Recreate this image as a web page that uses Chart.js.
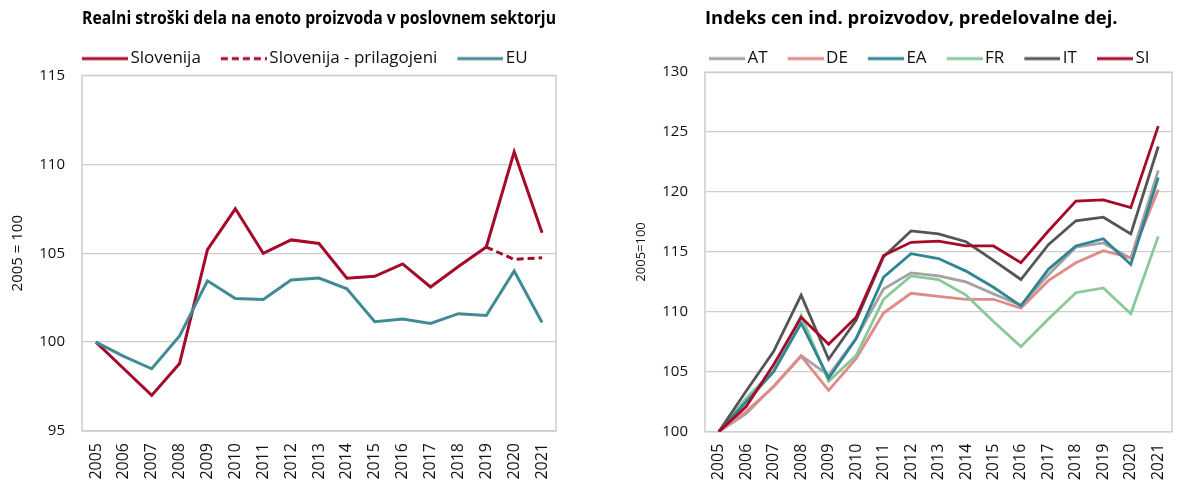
<!DOCTYPE html>
<html>
<head>
<meta charset="utf-8">
<script src="https://cdn.jsdelivr.net/npm/chart.js@4.4.1/dist/chart.umd.min.js"></script>
<style>
  html, body { margin: 0; padding: 0; background: #fff; overflow: hidden; width: 1182px; height: 481px; }
  #c1 { position: absolute; left: 0; top: 0; }
  #c2 { position: absolute; left: 590px; top: 0; }
</style>
</head>
<body>
<canvas id="c1" width="590" height="481"></canvas>
<canvas id="c2" width="600" height="481"></canvas>
<script>
// ---------- data ----------
const years = ['2005','2006','2007','2008','2009','2010','2011','2012','2013','2014','2015','2016','2017','2018','2019','2020','2021'];

const leftTitle = 'Realni stroški dela na enoto proizvoda v poslovnem sektorju';
const leftAxisTitle = '2005 = 100';
const leftTicks = [95, 100, 105, 110, 115];
const sloLabel = 'Slovenija';
const sloAdjLabel = 'Slovenija - prilagojeni';
const euLabel = 'EU';
const slo    = [100, 98.5, 97.0, 98.8, 105.2, 107.5, 105.0, 105.75, 105.55, 103.6, 103.7, 104.4, 103.1, 104.25, 105.35, 110.7, 106.15];
const sloAdj = [null, null, null, null, null, null, null, null, null, null, null, null, null, null, 105.35, 104.65, 104.75];
const eu     = [100, 99.2, 98.5, 100.35, 103.45, 102.45, 102.4, 103.5, 103.6, 103.0, 101.15, 101.3, 101.05, 101.6, 101.5, 104.0, 101.1];

const rightTitle = 'Indeks cen ind. proizvodov, predelovalne dej.';
const rightAxisTitle = '2005=100';
const rightTicks = [100, 105, 110, 115, 120, 125, 130];
const countries = ['AT', 'DE', 'EA', 'FR', 'IT', 'SI'];
const at = [100, 101.5, 103.8, 106.35, 104.7, 107.8, 111.9, 113.25, 113.0, 112.5, 111.5, 110.55, 113.1, 115.4, 115.75, 114.45, 121.8];
const de = [100, 101.7, 103.75, 106.3, 103.45, 106.1, 109.9, 111.55, 111.3, 111.05, 111.05, 110.3, 112.6, 114.1, 115.1, 114.5, 120.2];
const ea = [100, 102.5, 105.0, 109.05, 104.45, 107.75, 112.9, 114.85, 114.45, 113.4, 112.05, 110.5, 113.55, 115.5, 116.1, 113.95, 121.2];
const fr = [100, 102.8, 105.1, 109.7, 104.2, 106.35, 111.05, 113.0, 112.7, 111.4, 109.2, 107.1, 109.4, 111.6, 112.0, 109.85, 116.3];
const it = [100, 103.4, 106.7, 111.4, 106.05, 109.3, 114.6, 116.75, 116.5, 115.85, 114.3, 112.7, 115.6, 117.6, 117.9, 116.5, 123.8];
const si = [100, 102.1, 105.6, 109.55, 107.3, 109.55, 114.7, 115.8, 115.9, 115.5, 115.5, 114.1, 116.75, 119.25, 119.35, 118.7, 125.5];

// ---------- styles ----------
const RED = '#a50a2a';
const TEAL_EU = '#418b92';
const COLORS = { AT: '#a3a3a3', DE: '#e08a8a', EA: '#2f8692', FR: '#89c898', IT: '#555555', SI: '#a50a2a' };
const GRID = '#cdcdcd';
const TEXT = '#111';
const FONT = "'Open Sans', 'DejaVu Sans', sans-serif";
const TITLE_FONT = "'Liberation Sans Narrow', 'Open Sans', sans-serif";

Chart.defaults.font.family = FONT;
Chart.defaults.color = TEXT;
Chart.defaults.animation = false;

// legend sample: a line image (solid or dashed) of length L, 6px left margin
function lineSample(color, dash, width, L) {
  const c = document.createElement('canvas');
  c.width = L + 6; c.height = 6;
  const g = c.getContext('2d');
  g.strokeStyle = color; g.lineWidth = width;
  g.setLineDash(dash || []);
  g.beginPath(); g.moveTo(6, 3); g.lineTo(L + 6, 3); g.stroke();
  return c;
}

const areaBorder = {
  id: 'areaBorder',
  beforeDatasetsDraw(chart) {
    const {ctx, chartArea: a} = chart;
    ctx.save();
    ctx.strokeStyle = GRID; ctx.lineWidth = 1.5;
    ctx.strokeRect(a.left, a.top, a.right - a.left, a.bottom - a.top);
    ctx.restore();
  }
};

const legendShift = {
  id: 'legendShift',
  afterLayout(chart, args, opts) {
    const l = chart.legend;
    if (!l || opts.x === undefined) return;
    const dx = opts.x - (l.left + l.options.labels.padding);
    l.left += dx; l.right += dx;
  }
};

function legendOpts(maxHeight, L) {
  return {
    position: 'top',
    align: 'start',
    maxHeight: maxHeight,
    labels: {
      usePointStyle: true,
      pointStyleWidth: L - 6,
      boxHeight: 17,
      padding: 20,
      color: TEXT,
      font: { size: 17, family: FONT },
      sort: (a, b) => a.datasetIndex - b.datasetIndex,
      generateLabels(chart) {
        const items = Chart.defaults.plugins.legend.labels.generateLabels(chart);
        items.forEach(item => {
          const ds = chart.data.datasets[item.datasetIndex];
          item.pointStyle = lineSample(ds.borderColor, ds.borderDash, ds.borderWidth, L);
        });
        return items;
      }
    }
  };
}

function titleOpts(text, align) {
  return {
    display: true,
    text: text,
    align: align,
    fullSize: false,
    color: '#000',
    font: { family: TITLE_FONT, size: 18.4, weight: 'bold', lineHeight: 1.2 },
    padding: { top: 8, bottom: 0 }
  };
}

function line(label, data, color, extra) {
  return Object.assign({
    label: label, data: data, borderColor: color, backgroundColor: color,
    borderWidth: 3, pointRadius: 0, pointHoverRadius: 0, tension: 0, fill: false, spanGaps: false
  }, extra || {});
}

// ---------- left chart ----------
new Chart(document.getElementById('c1'), {
  type: 'line',
  data: {
    labels: years,
    datasets: [
      line(sloLabel, slo, RED, { order: 1 }),
      line(sloAdjLabel, sloAdj, RED, { borderDash: [7, 4], order: 2 }),
      line(euLabel, eu, TEAL_EU, { order: 0 })
    ]
  },
  plugins: [areaBorder, legendShift],
  options: {
    responsive: false,
    events: [],
    layout: { padding: { top: 0, left: 0, right: 34, bottom: 0 } },
    plugins: {
      title: titleOpts(leftTitle, 'center'),
      legend: legendOpts(45.4, 46),
      legendShift: { x: 82 },
      tooltip: { enabled: false }
    },
    scales: {
      x: {
        offset: true,
        grid: { display: false, drawTicks: false },
        border: { display: false },
        ticks: { autoSkip: false, minRotation: 90, maxRotation: 90, padding: 12, font: { size: 16 }, color: TEXT },
        afterFit(s) { s.height = 50; }
      },
      y: {
        min: leftTicks[0], max: leftTicks[leftTicks.length - 1],
        afterBuildTicks(s) { s.ticks = leftTicks.map(v => ({ value: v })); },
        grid: { color: GRID, lineWidth: 1.3, drawTicks: false },
        border: { display: false },
        ticks: { padding: 17, font: { size: 15 }, color: TEXT },
        title: { display: true, text: leftAxisTitle, font: { size: 15 }, color: TEXT, padding: { top: 9, bottom: 0 } },
        afterFit(s) { s.width = 82; }
      }
    }
  }
});

// ---------- right chart ----------
const rightSeries = [at, de, ea, fr, it, si];
const drawOrder = { AT: 5, DE: 4, EA: 2, FR: 3, IT: 1, SI: 0 };
new Chart(document.getElementById('c2'), {
  type: 'line',
  data: {
    labels: years,
    datasets: countries.map((c, i) => line(c, rightSeries[i], COLORS[c], { order: drawOrder[c], borderWidth: 2.8 }))
  },
  plugins: [areaBorder, legendShift],
  options: {
    responsive: false,
    events: [],
    layout: { padding: { top: 0, left: 0, right: 5, bottom: 0 } },
    plugins: {
      title: titleOpts(rightTitle, 'start'),
      legend: legendOpts(42.1, 36),
      legendShift: { x: 119 },
      tooltip: { enabled: false }
    },
    scales: {
      x: {
        offset: true,
        grid: { display: false, drawTicks: false },
        border: { display: false },
        ticks: { autoSkip: false, minRotation: 90, maxRotation: 90, padding: 12, font: { size: 16 }, color: TEXT },
        afterFit(s) { s.height = 49.3; }
      },
      y: {
        min: rightTicks[0], max: rightTicks[rightTicks.length - 1],
        afterBuildTicks(s) { s.ticks = rightTicks.map(v => ({ value: v })); },
        grid: { color: GRID, lineWidth: 1.3, drawTicks: false },
        border: { display: false },
        ticks: { padding: 17, font: { size: 15 }, color: TEXT },
        title: { display: true, text: rightAxisTitle, font: { size: 13 }, color: TEXT, padding: { top: 43, bottom: 0 } },
        afterFit(s) { s.width = 115; }
      }
    }
  }
});
</script>
</body>
</html>
